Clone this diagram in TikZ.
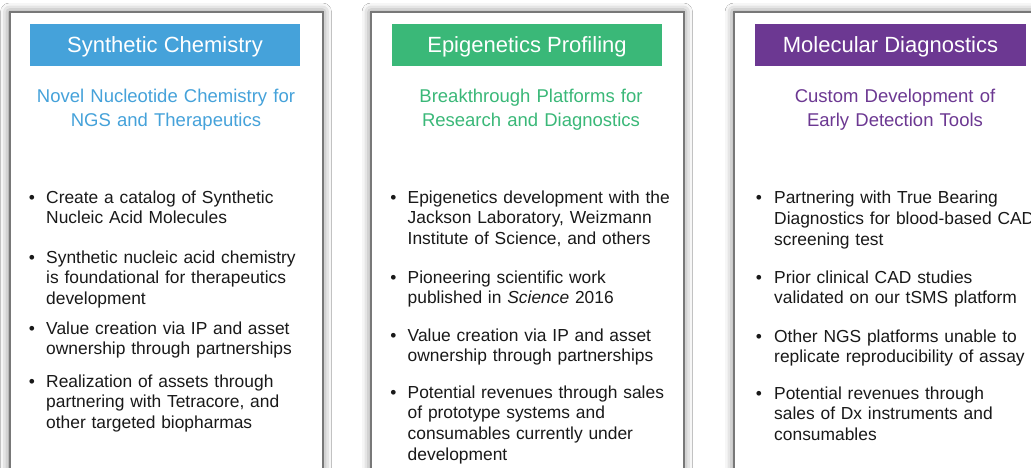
\documentclass[tikz,border=0pt]{standalone}
\usepackage{fontspec}
\setmainfont{Liberation Sans}
\usepackage{xcolor}
\usetikzlibrary{shadows.blur}
\definecolor{chemblue}{RGB}{69,162,218}
\definecolor{epigreen}{RGB}{58,184,120}
\definecolor{dxpurple}{RGB}{108,56,146}
\definecolor{panelgray}{RGB}{120,120,120}
\definecolor{itemgray}{RGB}{25,25,25}
\tikzset{%
  panel/.style={draw=panelgray, line width=2pt, fill=white,
    blur shadow={shadow xshift=0pt, shadow yshift=0pt, shadow blur radius=9pt, shadow opacity=55}},
  headtext/.style={text=white, font=\fontsize{22}{26}\selectfont, anchor=base, inner sep=0pt},
  subtext/.style={text=#1, font=\fontsize{18.5}{24}\selectfont, text width=310pt, align=center, anchor=base, inner sep=0pt},
  itemtext/.style={text=itemgray, font=\fontsize{17.4}{20.8}\selectfont, text width=290pt, align=left, anchor=base west, inner sep=0pt},
  dot/.style={text=itemgray, font=\fontsize{17.4}{20.8}\selectfont, anchor=base, inner sep=0pt}
}

\begin{document}
\begin{tikzpicture}[x=1pt,y=-1pt]
\useasboundingbox (0,0) rectangle (1031,468);
\clip (0,0) rectangle (1031,468);
\fill[white] (0,0) rectangle (1031,468);
% panels
\filldraw[panel] (9.5,12) rectangle (322.5,495);
\filldraw[panel] (371,12) rectangle (683.5,495);
\filldraw[panel] (734,12) rectangle (1047,495);
% header bars
\fill[chemblue] (30,24) rectangle (300,66);
\fill[epigreen] (392,24) rectangle (662,66);
\fill[dxpurple] (755,24) rectangle (1026,66);
\node[headtext] (chemtitle) at (165,53) {Synthetic Chemistry};
\node[headtext] (epititle) at (527,53) {Epigenetics Profiling};
\node[headtext] (dxtitle) at (890.5,53) {Molecular Diagnostics};
% subtitles
\node[subtext=chemblue] (chemsub) at (166,102.5) {Novel Nucleotide Chemistry for\\NGS and Therapeutics};
\node[subtext=epigreen] (episub) at (531,102.5) {Breakthrough Platforms for\\Research and Diagnostics};
\node[subtext=dxpurple] (dxsub) at (895,102.5) {Custom Development of\\Early Detection Tools};
% synthetic chemistry items
\node[dot] (chemdotA) at (32,203) {•};
\node[itemtext] (chemA) at (46,203) {Create a catalog of Synthetic\\Nucleic Acid Molecules};
\node[dot] (chemdotB) at (32,263) {•};
\node[itemtext] (chemB) at (46,263) {Synthetic nucleic acid chemistry\\is foundational for therapeutics\\development};
\node[dot] (chemdotC) at (32,334) {•};
\node[itemtext] (chemC) at (46,334) {Value creation via IP and asset\\ownership through partnerships};
\node[dot] (chemdotD) at (32,387) {•};
\node[itemtext] (chemD) at (46,387) {Realization of assets through\\partnering with Tetracore, and\\other targeted biopharmas};
% epigenetics items
\node[dot] (epidotA) at (393.5,203) {•};
\node[itemtext] (epiA) at (407.5,203) {Epigenetics development with the\\Jackson Laboratory, Weizmann\\Institute of Science, and others};
\node[dot] (epidotB) at (393.5,283) {•};
\node[itemtext] (epiB) at (407.5,283) {Pioneering scientific work\\published in \textit{Science} 2016};
\node[dot] (epidotC) at (393.5,341) {•};
\node[itemtext] (epiC) at (407.5,341) {Value creation via IP and asset\\ownership through partnerships};
\node[dot] (epidotD) at (393.5,398) {•};
\node[itemtext] (epiD) at (407.5,398) {Potential revenues through sales\\of prototype systems and\\consumables currently under\\development};
% diagnostics items
\node[dot] (dxdotA) at (759,204) {•};
\node[itemtext] (dxA) at (774,204) {Partnering with True Bearing\\Diagnostics for blood-based CAD\\screening test};
\node[dot] (dxdotB) at (759,283) {•};
\node[itemtext] (dxB) at (774,283) {Prior clinical CAD studies\\validated on our tSMS platform};
\node[dot] (dxdotC) at (759,342) {•};
\node[itemtext] (dxC) at (774,342) {Other NGS platforms unable to\\replicate reproducibility of assay};
\node[dot] (dxdotD) at (759,399) {•};
\node[itemtext] (dxD) at (774,399) {Potential revenues through\\sales of Dx instruments and\\consumables};
\end{tikzpicture}
\end{document}
